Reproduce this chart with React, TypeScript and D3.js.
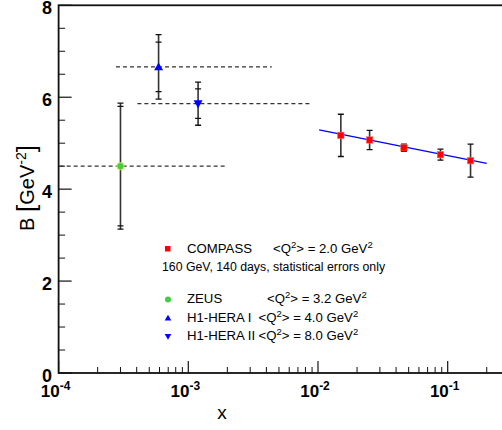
import React from "react";
import * as d3 from "d3";

const compassX = [0.015, 0.025, 0.046, 0.088, 0.15];
const compassB = [5.17, 5.07, 4.9, 4.75, 4.62];
const compassErr = [0.46, 0.21, 0.08, 0.12, 0.36];

const fitX = [0.0102, 0.2];
const fitB = [5.29, 4.56];

const heraNames = ["ZEUS", "H1-HERA I", "H1-HERA II"];
const heraX = [3.0e-4, 5.9e-4, 1.19e-3];
const heraB = [4.5, 6.66, 5.86];
const heraStat = [1.3, 0.54, 0.32];
const heraTot = [1.37, 0.7, 0.47];
const heraXmin = [0.9e-4, 2.77e-4, 4.05e-4];
const heraXmax = [2.0e-3, 4.4e-3, 8.8e-3];

const yTicks = [0, 2, 4, 6, 8];
const xDecades = [-4, -3, -2, -1];

export default function App() {
  const W = 502, H = 430;
  const x = d3.scaleLog().domain([1e-4, 0.3]).range([58.6, 58.6 + 129.7 * Math.log10(3000)]);
  const y = d3.scaleLinear().domain([0, 8]).range([373, 5.3]);
  const x0 = x.range()[0], x1 = x.range()[1];
  const yb = y(0), yt = y(8);

  const yMinor = d3.range(0, 8.01, 0.5).filter((v) => v % 2 !== 0);
  const xMinor: number[] = [];
  for (let e = -4; e <= -1; e++) {
    for (let m = 2; m <= 9; m++) {
      const v = m * Math.pow(10, e);
      if (v <= 0.3) xMinor.push(v);
    }
  }
  const font = "'Liberation Sans', Arial, Helvetica, sans-serif";
  const line = d3.line<number>().x((_, i) => x(fitX[i])).y((d) => y(d));

  const ErrBar = ({ cx, b, stat, tot }: { cx: number; b: number; stat: number; tot?: number }) => {
    const top = tot !== undefined ? tot : stat;
    return (
      <g>
        <line x1={cx} x2={cx} y1={y(b + top)} y2={y(b - top)} stroke="#333" strokeWidth={1.6} />
        <line x1={cx - 3} x2={cx + 3} y1={y(b + top)} y2={y(b + top)} stroke="#111" strokeWidth={1.3} />
        <line x1={cx - 3} x2={cx + 3} y1={y(b - top)} y2={y(b - top)} stroke="#111" strokeWidth={1.3} />
        {tot !== undefined && (
          <>
            <line x1={cx - 3} x2={cx + 3} y1={y(b + stat)} y2={y(b + stat)} stroke="#111" strokeWidth={1.3} />
            <line x1={cx - 3} x2={cx + 3} y1={y(b - stat)} y2={y(b - stat)} stroke="#111" strokeWidth={1.3} />
          </>
        )}
      </g>
    );
  };

  const tri = (cx: number, cy: number, up: boolean, s = 4.5) =>
    up
      ? `M${cx},${cy - s} L${cx + s},${cy + s * 0.75} L${cx - s},${cy + s * 0.75} Z`
      : `M${cx},${cy + s} L${cx + s},${cy - s * 0.75} L${cx - s},${cy - s * 0.75} Z`;

  const legendRows = [
    { name: "COMPASS", q: "2.0", y: 253, qx: 273 },
    { name: heraNames[0], q: "3.2", y: 303, qx: 267 },
    { name: heraNames[1], q: "4.0", y: 322, qx: 258.5 },
    { name: heraNames[2], q: "8.0", y: 340, qx: 258.5 },
  ];

  return (
    <svg width={W} height={H} style={{ position: "absolute", left: 0, top: 0, background: "#fff" }} fontFamily={font}>
      <defs>
        <clipPath id="plot">
          <rect x={x0} y={yt} width={x1 - x0} height={yb - yt} />
        </clipPath>
      </defs>
      {/* frame */}
      <rect x={x0} y={yt} width={x1 - x0} height={yb - yt} fill="none" stroke="#111" strokeWidth={1.8} />

      {/* y ticks */}
      {yTicks.map((v) => (
        <g key={"yt" + v}>
          <line x1={x0} x2={x0 + 13} y1={y(v)} y2={y(v)} stroke="#111" strokeWidth={1.2} />
          <text x={52} y={y(v) + 8.6} textAnchor="end" fontSize={18} fontWeight="bold">{v}</text>
        </g>
      ))}
      {yMinor.map((v) => (
        <line key={"ym" + v} x1={x0} x2={x0 + 6.5} y1={y(v)} y2={y(v)} stroke="#111" strokeWidth={1} />
      ))}

      {/* x ticks */}
      {xDecades.map((e) => {
        const px = x(Math.pow(10, e));
        return (
          <g key={"xd" + e}>
            <line x1={px} x2={px} y1={yb} y2={yb - 12} stroke="#111" strokeWidth={1.2} />
            <text x={px - 3} y={397} textAnchor="middle" fontSize={17} fontWeight="bold">
              10<tspan dy={-7} fontSize={12}>{e}</tspan>
            </text>
          </g>
        );
      })}
      {xMinor.map((v) => (
        <line key={"xm" + v} x1={x(v)} x2={x(v)} y1={yb} y2={yb - 6} stroke="#111" strokeWidth={1} />
      ))}

      {/* axis titles */}
      <text x={222} y={419} textAnchor="middle" fontSize={19}>x</text>
      <g transform="translate(34,188) rotate(-90)">
        <text x={0} y={0} textAnchor="middle" fontSize={20}>
          B <tspan fontSize={26} dy={1}>[</tspan><tspan dy={-1}>GeV</tspan><tspan dy={-8} fontSize={14}>-2</tspan><tspan dy={9} fontSize={26}>]</tspan>
        </text>
      </g>

      <g clipPath="url(#plot)">
        {/* dashed x-ranges */}
        {heraX.map((_, i) => (
          <line key={"dash" + i} x1={x(heraXmin[i])} x2={x(heraXmax[i])} y1={y(heraB[i])} y2={y(heraB[i])}
            stroke="#333" strokeWidth={1.2} strokeDasharray="4,3" />
        ))}
        {/* HERA error bars */}
        {heraX.map((v, i) => (
          <ErrBar key={"he" + i} cx={x(v)} b={heraB[i]} stat={heraStat[i]} tot={heraTot[i]} />
        ))}
        {/* fit line */}
        <path d={line(fitB) || ""} fill="none" stroke="#0000ff" strokeWidth={1.3} />
        {/* COMPASS */}
        {compassX.map((v, i) => (
          <ErrBar key={"ce" + i} cx={x(v)} b={compassB[i]} stat={compassErr[i]} />
        ))}
        {compassX.map((v, i) => (
          <rect key={"cm" + i} x={x(v) - 3.2} y={y(compassB[i]) - 3.2} width={6.4} height={6.4} fill="#ff0000" stroke="#ff6666" strokeWidth={0.6} />
        ))}
        {/* HERA markers */}
        <circle cx={x(heraX[0])} cy={y(heraB[0])} r={3.6} fill="#44cc44" stroke="#ccee44" strokeWidth={0.9} />
        <path d={tri(x(heraX[1]), y(heraB[1]), true)} fill="#0000ff" />
        <path d={tri(x(heraX[2]), y(heraB[2]), false)} fill="#0000ff" />
      </g>

      {/* legend */}
      <rect x={165} y={246} width={5.5} height={5.5} fill="#ff0000" />
      <circle cx={168} cy={299.5} r={3} fill="#44cc44" />
      <path d={tri(168, 318, true, 3.3)} fill="#0000ff" />
      <path d={tri(168, 336.5, false, 3.3)} fill="#0000ff" />
      {legendRows.map((r) => (
        <g key={r.name} fontSize={13.2}>
          <text x={187} y={r.y}>{r.name}</text>
          <text x={r.qx} y={r.y}>
            {"<Q"}<tspan dy={-5.5} fontSize={9.5}>2</tspan><tspan dy={5.5}>{"> = " + r.q + " GeV"}</tspan><tspan dy={-5.5} fontSize={9.5}>2</tspan>
          </text>
        </g>
      ))}
      <text x={162} y={271} fontSize={12.3}>160 GeV, 140 days, statistical errors only</text>
    </svg>
  );
}
